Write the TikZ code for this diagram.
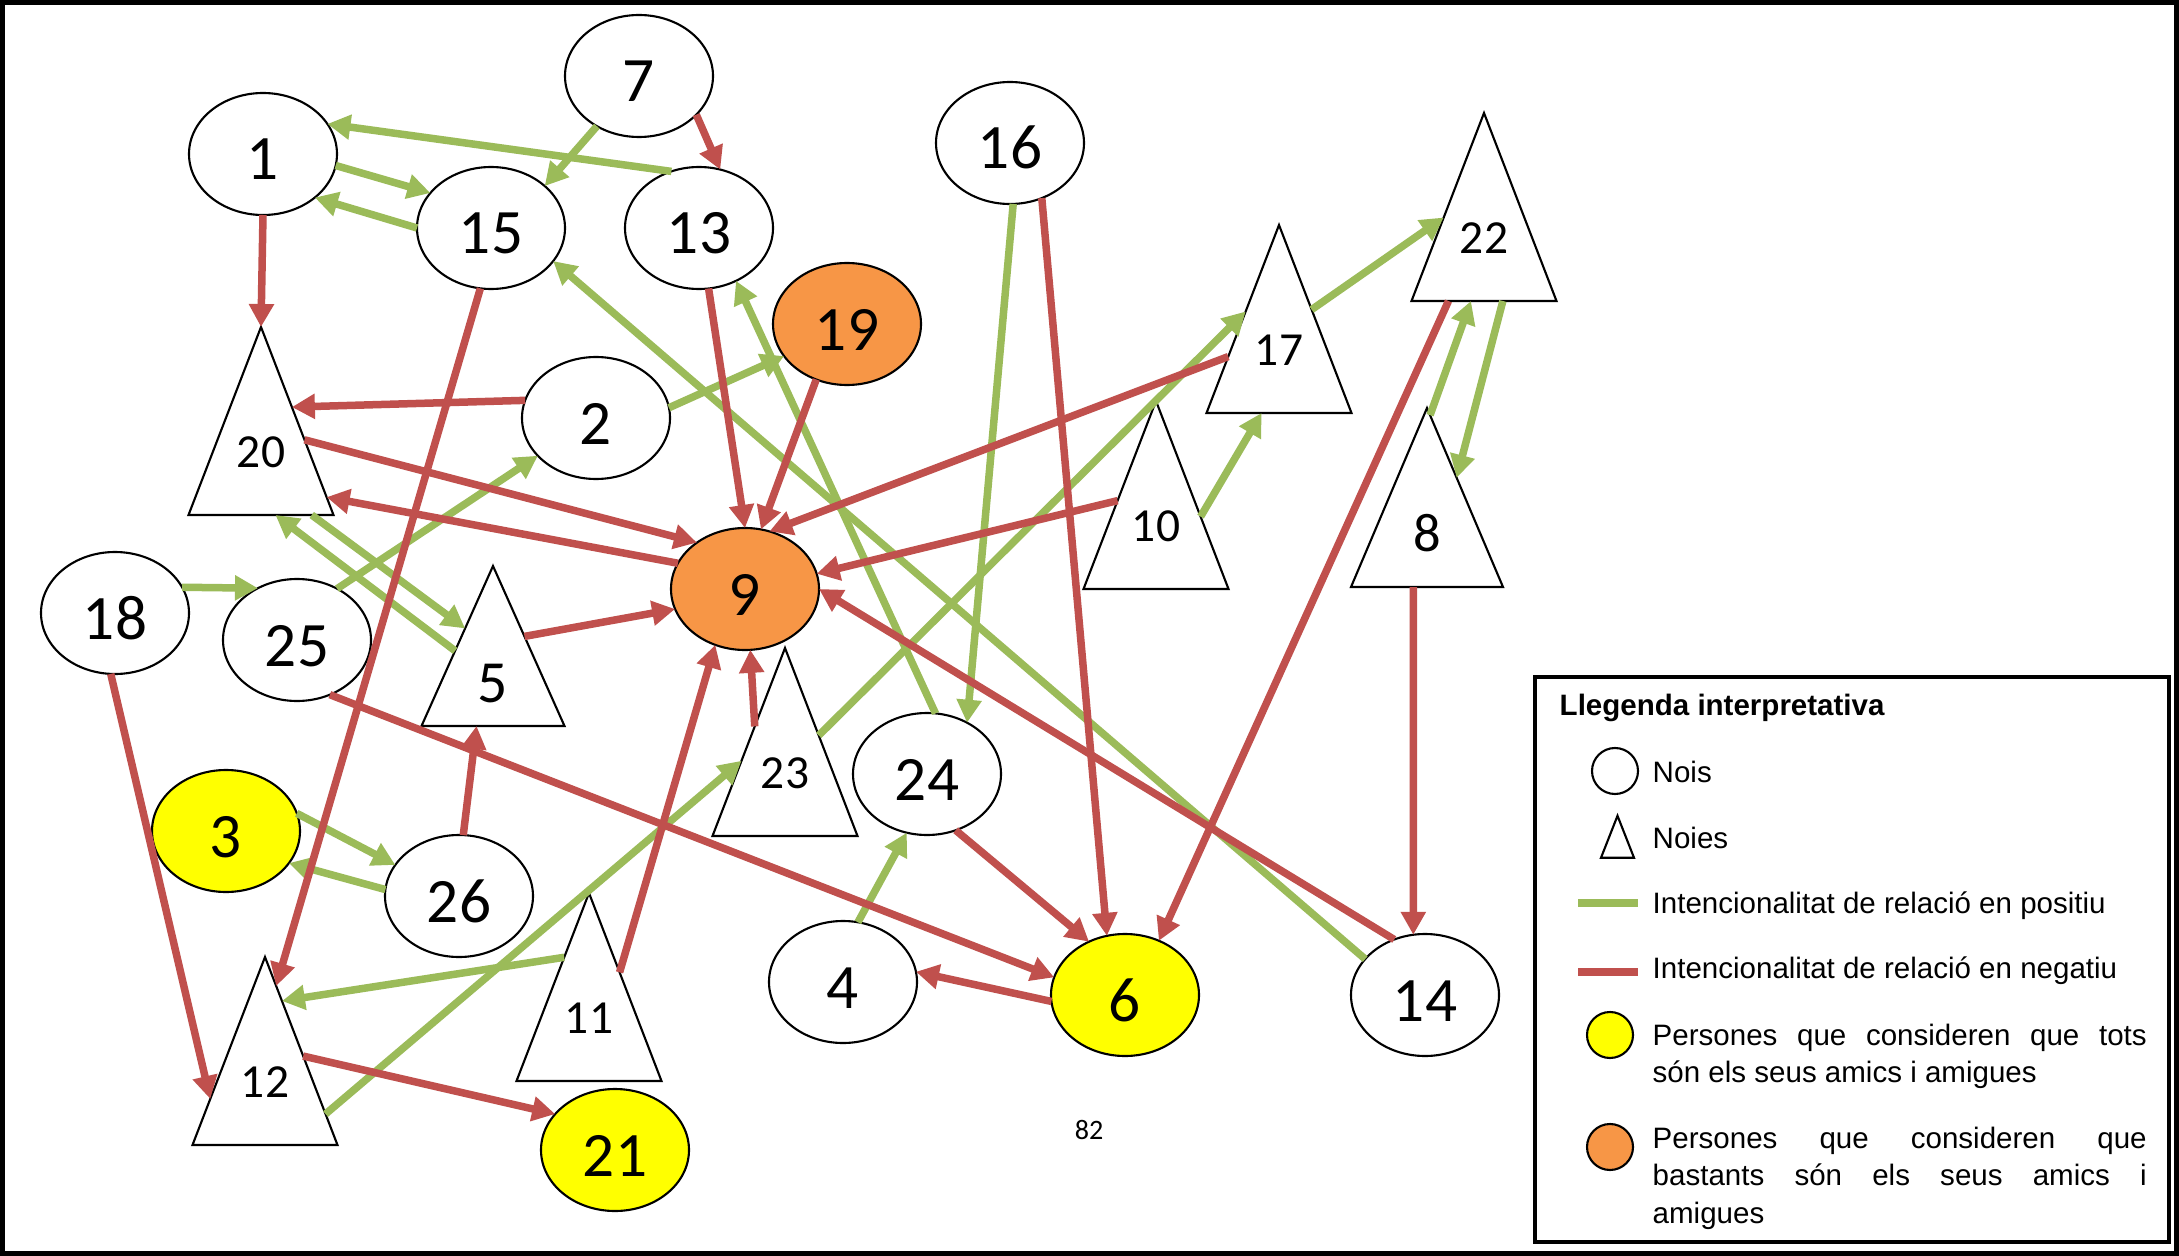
\documentclass[tikz,border=0pt]{standalone}
\usepackage{fontspec}
\setmainfont{Liberation Sans}
\newfontfamily\calibri{Carlito}
\usetikzlibrary{shapes.geometric,arrows.meta,calc}

\definecolor{relgreen}{HTML}{9BBB59}
\definecolor{relred}{HTML}{C0504D}
\definecolor{fillorange}{HTML}{F79646}
\definecolor{fillyellow}{HTML}{FFFF00}

\begin{document}
\begin{tikzpicture}[
            boy/.style={ellipse, draw, line width=0.6pt, fill=white,
                minimum width=1.48cm, minimum height=1.22cm, inner sep=0pt, outer sep=0pt,
                text height=0.52cm, text depth=0pt, font=\calibri\fontsize{18}{18}\selectfont},
            girl/.style={isosceles triangle, isosceles triangle stretches, shape border rotate=90,
                draw, line width=0.6pt, fill=white, minimum width=1.45cm, minimum height=1.88cm,
                inner sep=0pt, outer sep=0pt, anchor=apex},
            tlabel/.style={inner sep=0pt, font=\calibri\fontsize{13.5}{13.5}\selectfont},
            poslink/.style={draw=relgreen, line width=0.075cm, -{Triangle[length=0.23cm,width=0.24cm]}},
            neglink/.style={draw=relred, line width=0.075cm, -{Triangle[length=0.23cm,width=0.24cm]}},
            keytext/.style={inner sep=0pt, anchor=base west, font=\fontsize{8.4}{10.8}\selectfont}
        ]
        \useasboundingbox (0,0) rectangle (21.79,-12.56);
        \fill[white] (0,0) rectangle (21.79,-12.56);
        \draw[line width=0.05cm] (0.025,-0.025) rectangle (21.765,-12.535);

        % Nois
        \node[boy] (n1) at (2.63,-1.54) {1};
        \node[boy] (n7) at (6.39,-0.76) {7};
        \node[boy] (n15) at (4.91,-2.28) {15};
        \node[boy] (n13) at (6.99,-2.28) {13};
        \node[boy] (n16) at (10.10,-1.43) {16};
        \node[boy, fill=fillorange] (n19) at (8.47,-3.24) {19};
        \node[boy] (n2) at (5.96,-4.18) {2};
        \node[boy, fill=fillorange] (n9) at (7.45,-5.89) {9};
        \node[boy] (n18) at (1.15,-6.13) {18};
        \node[boy] (n25) at (2.97,-6.40) {25};
        \node[boy, fill=fillyellow] (n3) at (2.26,-8.31) {3};
        \node[boy] (n26) at (4.59,-8.96) {26};
        \node[boy, fill=fillyellow] (n21) at (6.15,-11.50) {21};
        \node[boy] (n24) at (9.27,-7.74) {24};
        \node[boy] (n4) at (8.43,-9.82) {4};
        \node[boy, fill=fillyellow] (n6) at (11.25,-9.95) {6};
        \node[boy] (n14) at (14.25,-9.95) {14};

        % Noies, placed by their apex
        \node[girl] (t20) at (2.61,-3.27) {};
        \node[girl] (t17) at (12.79,-2.25) {};
        \node[girl] (t10) at (11.56,-4.01) {};
        \node[girl] (t22) at (14.84,-1.13) {};
        \node[girl, minimum width=1.52cm, minimum height=1.79cm] (t8) at (14.27,-4.08) {};
        \node[girl, minimum width=1.43cm, minimum height=1.60cm] (t5) at (4.93,-5.66) {};
        \node[girl] (t12) at (2.65,-9.57) {};
        \node[girl] (t11) at (5.89,-8.93) {};
        \node[girl] (t23) at (7.85,-6.48) {};
        \foreach \girlno in {20,17,10,22,12,11,23}
            \node[tlabel] (l\girlno) at ([yshift=-1.25cm]t\girlno.apex) {\girlno};
        \node[tlabel, font=\calibri\fontsize{15.5}{15.5}\selectfont] (l8) at ([yshift=-1.25cm]t8.apex) {8};
        \node[tlabel, font=\calibri\fontsize{17}{17}\selectfont] (l5) at ([yshift=-1.18cm]t5.apex) {5};

        % positive links
        \foreach \from/\to in {n13.116/n1.25, n1.-9/n15.150, n15.180/n1.-40, n7.-130/n15.38,
                n2.8/n19.207, n14.149/n15.-28, n24.82/n13.-55, n16.-87/n24.52, n4.76/n24.-109,
                n25.52/n2.-147, n18.21/n25.127, n3.14/n26.154, n26.175/n3.-27}
            \draw[poslink] (\from) -- (\to);
        \draw[poslink] ($(t23.right corner)!0.535!(t23.apex)$) -- ($(t17.left corner)!0.54!(t17.apex)$);
        \draw[poslink] ($(t17.right corner)!0.55!(t17.apex)$) -- ($(t22.left corner)!0.444!(t22.apex)$);
        \draw[poslink] ($(t10.right corner)!0.385!(t10.apex)$) -- ($(t17.left corner)!0.38!(t17.right corner)$);
        \draw[poslink] ($(t8.right corner)!0.96!(t8.apex)$) -- ($(t22.left corner)!0.41!(t22.right corner)$);
        \draw[poslink] ($(t22.left corner)!0.63!(t22.right corner)$) -- ($(t8.right corner)!0.61!(t8.apex)$);
        \draw[poslink] ($(t20.left corner)!0.85!(t20.right corner)$) -- ($(t5.left corner)!0.61!(t5.apex)$);
        \draw[poslink] ($(t5.left corner)!0.47!(t5.apex)$) -- ($(t20.left corner)!0.6!(t20.right corner)$);
        \draw[poslink] ($(t11.left corner)!0.658!(t11.apex)$) -- ($(t12.right corner)!0.766!(t12.apex)$);
        \draw[poslink] ($(t12.right corner)!0.165!(t12.apex)$) -- ($(t23.left corner)!0.40!(t23.apex)$);

        % negative links
        \foreach \from/\to in {n7.-34/n13.70, n13.-81/n9.90, n19.-119/n9.75, n16.-60/n6.107,
                n14.119/n9.0, n24.-63/n6.124, n6.185/n4.8, n25.-59/n6.166}
            \draw[neglink] (\from) -- (\to);
        \draw[neglink] (n1.-90) -- (t20.apex);
        \draw[neglink] (n2.166) -- ($(t20.right corner)!0.574!(t20.apex)$);
        \draw[neglink] ($(t20.right corner)!0.40!(t20.apex)$) -- (n9.136);
        \draw[neglink] (n9.159) -- ($(t20.right corner)!0.095!(t20.apex)$);
        \draw[neglink] (n15.-100) -- ($(t12.right corner)!0.846!(t12.apex)$);
        \draw[neglink] ($(t17.left corner)!0.30!(t17.apex)$) -- (n9.67);
        \draw[neglink] ($(t10.left corner)!0.47!(t10.apex)$) -- (n9.12);
        \draw[neglink] ($(t22.left corner)!0.255!(t22.right corner)$) -- (n6.58);
        \draw[neglink] ($(t8.left corner)!0.41!(t8.right corner)$) -- (n14.101);
        \draw[neglink] ($(t23.left corner)!0.583!(t23.apex)$) -- (n9.-85);
        \draw[neglink] ($(t11.right corner)!0.578!(t11.apex)$) -- (n9.-118);
        \draw[neglink] ($(t5.right corner)!0.56!(t5.apex)$) -- (n9.196);
        \draw[neglink] (n18.-94) -- ($(t12.left corner)!0.245!(t12.apex)$);
        \draw[neglink] (n26.86) -- ($(t5.left corner)!0.385!(t5.right corner)$);
        \draw[neglink] ($(t12.right corner)!0.473!(t12.apex)$) -- (n21.149);

        \node[inner sep=0pt, font=\calibri\fontsize{8}{8}\selectfont] (pageno) at (10.89,-11.30) {82};

        % legend
        \draw[line width=0.045cm] (15.35,-6.77) rectangle (21.69,-12.42);
        \node[keytext, font=\bfseries\fontsize{8.4}{10.8}\selectfont] (keytitle) at (15.59,-7.15) {Llegenda interpretativa};
        \node[circle, draw, line width=0.6pt, minimum size=0.46cm, inner sep=0pt] (keyboy) at (16.15,-7.71) {};
        \node[keytext] (keyboytext) at (16.52,-7.82) {Nois};
        \node[isosceles triangle, isosceles triangle stretches, shape border rotate=90, draw, line width=0.6pt,
            minimum width=0.33cm, minimum height=0.42cm, inner sep=0pt, anchor=apex] (keygirl) at (16.175,-8.13) {};
        \node[keytext] (keygirltext) at (16.52,-8.48) {Noies};
        \coordinate (keyposA) at (15.78,-9.03);
        \coordinate (keyposB) at (16.38,-9.03);
        \draw[relgreen, line width=0.076cm] (keyposA) -- (keyposB);
        \node[keytext] (keypostext) at (16.52,-9.13) {Intencionalitat de relació en positiu};
        \coordinate (keynegA) at (15.78,-9.72);
        \coordinate (keynegB) at (16.38,-9.72);
        \draw[relred, line width=0.076cm] (keynegA) -- (keynegB);
        \node[keytext] (keynegtext) at (16.52,-9.78) {Intencionalitat de relació en negatiu};
        \node[circle, draw, fill=fillyellow, line width=0.6pt, minimum size=0.46cm, inner sep=0pt] (keyall) at (16.10,-10.35) {};
        \node[keytext, text width=4.94cm, align=justify] (keyalltext) at (16.52,-10.45)
            {Persones que consideren que tots\linebreak són els seus amics i amigues};
        \node[circle, draw, fill=fillorange, line width=0.6pt, minimum size=0.46cm, inner sep=0pt] (keymany) at (16.10,-11.47) {};
        \node[keytext, text width=4.94cm, align=justify] (keymanytext) at (16.52,-11.48)
            {Persones que consideren que\linebreak bastants són els seus amics i\linebreak amigues};
        \end{tikzpicture}
\end{document}
